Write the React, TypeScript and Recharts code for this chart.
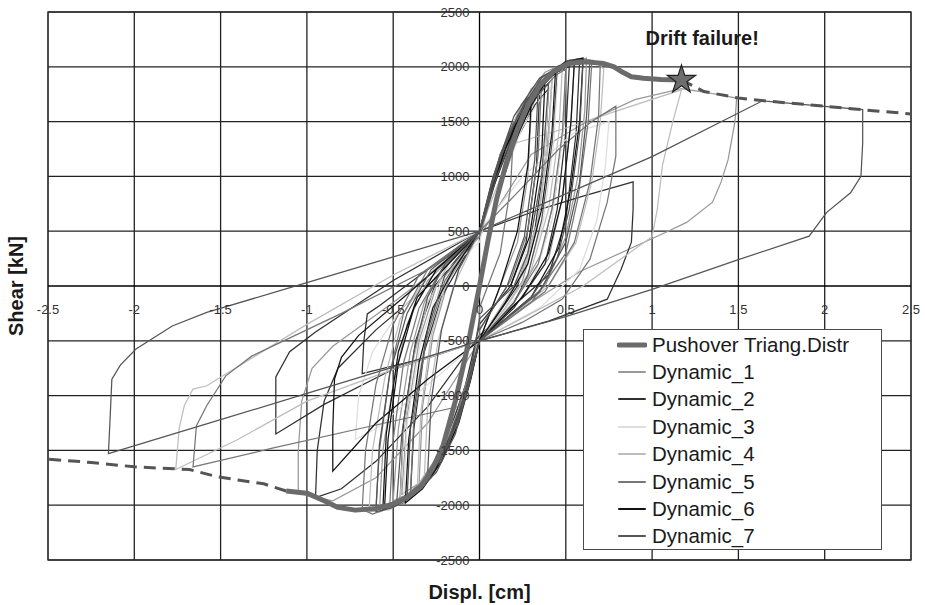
import React from 'react';
import {
  ComposedChart, Line, Scatter, XAxis, YAxis, ZAxis,
  ReferenceDot, ReferenceArea, ReferenceLine, Legend,
} from 'recharts';

type P = [number, number];

const xTicks = [-2.5, -2, -1.5, -1, -0.5, 0, 0.5, 1, 1.5, 2, 2.5];
const xTickLabels = ['-2.5', '-2', '-1.5', '-1', '-0.5', '0', '0.5', '1', '1.5', '2', '2.5'];
const yTicks = [-2500, -2000, -1500, -1000, -500, 0, 500, 1000, 1500, 2000, 2500];
const yTickLabels = ['-2500', '-2000', '-1500', '-1000', '-500', '0', '500', '1000', '1500', '2000', '2500'];

const seriesNames = ['Pushover Triang.Distr', 'Dynamic_1', 'Dynamic_2', 'Dynamic_3', 'Dynamic_4', 'Dynamic_5', 'Dynamic_6', 'Dynamic_7'];
const seriesColors = ['#6b6b6b', '#999999', '#303030', '#dddddd', '#bdbdbd', '#777777', '#111111', '#555555'];

const pushover: P[] = [
  [-1.12, -1870], [-1.0, -1890], [-0.9, -1960], [-0.82, -2020], [-0.72, -2045], [-0.6, -2030], [-0.5, -1990],
  [-0.42, -1930], [-0.34, -1830], [-0.27, -1660], [-0.21, -1450], [-0.14, -1050], [-0.07, -560], [0, 0],
  [0.05, 420], [0.1, 800], [0.16, 1150], [0.22, 1430], [0.28, 1650], [0.35, 1830], [0.43, 1960], [0.52, 2030],
  [0.62, 2045], [0.72, 2030], [0.78, 2000], [0.83, 1950], [0.88, 1910], [0.95, 1895], [1.05, 1885], [1.17, 1880],
];
const pushoverRight: P[] = [[1.17, 1880], [1.3, 1775], [1.5, 1715], [1.65, 1690], [2.0, 1640], [2.28, 1600], [2.5, 1570]];
const pushoverLeft: P[] = [[-1.12, -1870], [-1.25, -1805], [-1.4, -1770], [-1.52, -1740], [-1.68, -1675], [-2.0, -1650], [-2.25, -1610], [-2.5, -1580]];
const driftFailure: P[] = [[1.17, 1880]];

const dynamic1: P[] = [
  [0, 0], [0.06, 500], [0.15, 1100], [0.25, 1500], [0.35, 1780], [0.42, 1880],
  [0.39, 1200], [0.33, 500], [0.25, 50], [0.15, -200], [0, -500],
  [-0.08, -1000], [-0.18, -1450], [-0.3, -1750], [-0.42, -1900], [-0.5, -1960],
  [-0.47, -1300], [-0.4, -600], [-0.32, -150], [-0.2, 200], [0, 500],
  [0.1, 1050], [0.22, 1500], [0.35, 1850], [0.48, 2000], [0.55, 2030],
  [0.53, 1500], [0.48, 800], [0.4, 250], [0.25, -100], [0, -500],
  [-0.3, -1250], [-0.6, -1750], [-0.85, -1960], [-1.05, -1890],
  [-1.05, -1500], [-1.03, -1050], [-0.97, -750], [-0.85, -550], [-0.5, -150], [0, 450],
  [0.3, 1200], [0.6, 1480], [0.9, 1700], [1.17, 1800], [1.3, 1770], [1.49, 1715],
  [1.48, 1500], [1.44, 1150], [1.4, 950], [1.35, 765], [1.2, 580], [1.08, 490], [0.58, 130], [0.3, -150], [0, -450],
  [-0.1, -1000], [-0.22, -1500], [-0.35, -1800], [-0.45, -1900],
  [-0.42, -1200], [-0.35, -500], [-0.25, 0], [0, 450],
  [0.1, 1000], [0.2, 1400], [0.3, 1600],
  [0.28, 1000], [0.22, 400], [0.12, 0], [0, -500],
  [-0.09, -1050], [-0.2, -1500], [-0.33, -1830], [-0.47, -2000], [-0.58, -2060],
  [-0.56, -1500], [-0.5, -900], [-0.42, -350], [-0.3, 50], [0, 500],
  [0.07, 950], [0.17, 1400], [0.3, 1800], [0.45, 2000], [0.62, 2080],
  [0.61, 1600], [0.57, 1000], [0.5, 450], [0.38, 0], [0, -500],
  [-0.07, -950], [-0.16, -1350], [-0.26, -1650], [-0.35, -1800],
  [-0.33, -1100], [-0.27, -450], [-0.18, 50], [0, 500],
  [0.1, 1100], [0.24, 1650], [0.38, 1950], [0.5, 2040],
  [0.49, 1500], [0.44, 850], [0.36, 300], [0.2, -150], [0, -500],
];

const dynamic2: P[] = [
  [0, 0], [0.05, 400], [0.12, 900], [0.22, 1350], [0.32, 1650], [0.4, 1800],
  [0.38, 1200], [0.32, 500], [0.22, 0], [0, -500],
  [-0.06, -900], [-0.15, -1350], [-0.27, -1700], [-0.4, -1900],
  [-0.38, -1300], [-0.32, -600], [-0.22, -100], [0, 500],
  [0.35, 700], [0.6, 820], [0.89, 950],
  [0.89, 700], [0.88, 400], [0.82, 150], [0.74, -120], [0.4, -320], [0, -500],
  [-0.5, -760], [-0.9, -1080], [-1.18, -1350],
  [-1.18, -1100], [-1.18, -830], [-1.1, -600], [-0.95, -420], [-0.5, 50], [0, 500],
  [0.08, 1000], [0.2, 1500], [0.32, 1800], [0.45, 1950], [0.52, 2000],
  [0.5, 1400], [0.45, 700], [0.38, 200], [0.2, -200], [0, -500],
  [-0.3, -650], [-0.68, -800],
  [-0.67, -500], [-0.65, -255], [-0.58, -180], [-0.3, 150], [0, 500],
  [0.1, 1050], [0.25, 1600], [0.35, 1850],
  [0.33, 1100], [0.27, 400], [0.18, 0], [0, -350],
  [-0.08, -900], [-0.2, -1450], [-0.34, -1800], [-0.46, -1950],
  [-0.44, -1250], [-0.37, -500], [-0.26, 0], [0, 500],
  [0.12, 1200], [0.3, 1750], [0.45, 1980], [0.58, 2060],
  [0.56, 1400], [0.5, 600], [0.4, 100], [0, -450],
  [-0.3, -1100], [-0.6, -1600], [-0.8, -1850], [-0.95, -1930],
  [-0.94, -1500], [-0.9, -1050], [-0.82, -750], [-0.6, -400], [-0.3, 0], [0, 500],
  [0.12, 1100], [0.2, 1350],
];

const dynamic3: P[] = [
  [0, 0], [0.06, 500], [0.15, 1050], [0.25, 1450], [0.35, 1700], [0.45, 1850],
  [0.43, 1300], [0.37, 600], [0.28, 100], [0.15, -200], [0, -500],
  [-0.07, -950], [-0.17, -1400], [-0.3, -1750], [-0.42, -1900],
  [-0.4, -1300], [-0.33, -600], [-0.24, -100], [-0.12, 250], [0, 500],
  [0.25, 1000], [0.55, 1400], [0.75, 1500],
  [0.73, 1100], [0.68, 600], [0.58, 150], [0.35, -200], [0, -500],
  [-0.3, -900], [-0.6, -1300], [-0.72, -1400],
  [-0.7, -1000], [-0.62, -600], [-0.45, -200], [0, 400],
  [0.08, 900], [0.18, 1350], [0.3, 1700], [0.4, 1850],
  [0.38, 1200], [0.3, 450], [0.2, 0], [0, -500],
  [-0.1, -1100], [-0.22, -1550], [-0.35, -1850], [-0.44, -1930],
  [-0.42, -1250], [-0.34, -500], [-0.22, 50], [0, 500],
  [0.12, 1150], [0.26, 1650], [0.4, 1950], [0.5, 2020],
  [0.48, 1350], [0.42, 600], [0.32, 100], [0, -500],
];

const dynamic4: P[] = [
  [0, 0], [0.05, 450], [0.12, 950], [0.22, 1400], [0.32, 1700], [0.42, 1880],
  [0.4, 1300], [0.34, 600], [0.25, 100], [0.12, -200], [0, -500],
  [-0.06, -900], [-0.15, -1350], [-0.26, -1700], [-0.38, -1900], [-0.46, -1960],
  [-0.44, -1350], [-0.38, -650], [-0.3, -150], [-0.18, 200], [0, 500],
  [0.2, 1300], [0.48, 1430], [0.8, 1600], [1.17, 1790],
  [1.12, 1500], [1.06, 1100], [1.03, 700], [1.0, 450], [0.6, 0], [0, -500],
  [-0.5, -760], [-1.0, -1050], [-1.4, -1400], [-1.76, -1675],
  [-1.74, -1300], [-1.71, -1090], [-1.66, -940], [-1.58, -910], [-1.0, -350], [-0.5, 100], [0, 500],
  [0.1, 1000], [0.22, 1500], [0.35, 1850], [0.48, 2000],
  [0.46, 1400], [0.4, 700], [0.3, 150], [0.15, -200], [0, -500],
  [-0.08, -1000], [-0.2, -1450], [-0.32, -1750],
  [-0.3, -1100], [-0.24, -500], [-0.15, 0], [0, 500],
  [0.09, 1000], [0.2, 1500], [0.34, 1880], [0.5, 2050], [0.66, 2060], [0.72, 1980],
  [0.7, 1500], [0.65, 950], [0.56, 400], [0.4, 0], [0, -500],
  [-0.1, -1050], [-0.23, -1550], [-0.38, -1900], [-0.52, -2040], [-0.64, -2060],
  [-0.62, -1500], [-0.55, -850], [-0.46, -300], [-0.3, 100], [0, 500],
  [0.08, 950], [0.19, 1450], [0.3, 1750], [0.42, 1920],
  [0.4, 1300], [0.34, 600], [0.24, 100], [0, -500],
  [-0.06, -850], [-0.14, -1300], [-0.24, -1600], [-0.36, -1820],
  [-0.34, -1150], [-0.28, -450], [-0.18, 100], [0, 500],
];

const dynamic5: P[] = [
  [0, 0], [0.06, 500], [0.14, 1000], [0.24, 1450], [0.34, 1750], [0.44, 1920], [0.5, 1980],
  [0.48, 1400], [0.42, 700], [0.34, 200], [0.2, -150], [0, -500],
  [-0.07, -950], [-0.16, -1400], [-0.28, -1750], [-0.4, -1930], [-0.52, -2010],
  [-0.5, -1400], [-0.44, -700], [-0.35, -200], [-0.22, 150], [0, 500],
  [0.2, 820], [0.46, 1250], [0.65, 1500], [0.79, 1640],
  [0.79, 1400], [0.79, 1185], [0.74, 765], [0.64, 245], [0.48, -120], [0.25, -330], [0, -500],
  [-0.12, -1100], [-0.62, -1275], [-1.2, -1480], [-1.66, -1650],
  [-1.64, -1275], [-1.58, -1090], [-1.47, -820], [-1.32, -640], [-0.8, -250], [-0.3, 150], [0, 450],
  [0.12, 1100], [0.28, 1650], [0.42, 1950], [0.55, 2050], [0.65, 2030],
  [0.63, 1500], [0.57, 800], [0.5, 300], [0.3, -150], [0, -500],
  [-0.1, -1050], [-0.22, -1550], [-0.36, -1850], [-0.5, -1980], [-0.6, -2020],
  [-0.58, -1500], [-0.52, -800], [-0.44, -250], [-0.3, 150], [0, 500],
  [0.05, 800], [0.12, 1200], [0.2, 1500],
  [0.18, 900], [0.12, 300], [0, -200], [0, -500],
  [-0.08, -1000], [-0.18, -1450], [-0.3, -1780], [-0.44, -1980], [-0.62, -2080], [-0.68, -2040],
  [-0.66, -1500], [-0.6, -900], [-0.5, -350], [-0.35, 100], [0, 500],
  [0.11, 1100], [0.25, 1600], [0.4, 1930], [0.56, 2070], [0.7, 2040],
  [0.69, 1550], [0.64, 950], [0.55, 400], [0.38, -50], [0, -500],
  [-0.07, -900], [-0.17, -1400], [-0.29, -1730], [-0.4, -1880],
  [-0.38, -1200], [-0.31, -500], [-0.2, 50], [0, 500],
  [0.06, 850], [0.15, 1300], [0.26, 1650], [0.36, 1850],
  [0.34, 1200], [0.28, 500], [0.18, 50], [0, -400],
];

const dynamic6: P[] = [
  [0, 0], [0.04, 400], [0.1, 800], [0.2, 1300], [0.3, 1650], [0.38, 1850], [0.44, 1950],
  [0.42, 1400], [0.36, 700], [0.28, 200], [0.15, -150], [0, -500],
  [-0.05, -850], [-0.12, -1250], [-0.22, -1600], [-0.33, -1850], [-0.43, -1980],
  [-0.41, -1400], [-0.35, -700], [-0.27, -200], [-0.15, 150], [0, 500],
  [0.1, 1050], [0.2, 1450], [0.35, 1850], [0.5, 2050], [0.6, 2080],
  [0.58, 1500], [0.53, 900], [0.46, 350], [0.3, -100], [0, -500],
  [-0.3, -850], [-0.6, -1250], [-0.85, -1690],
  [-0.85, -1300], [-0.84, -850], [-0.8, -650], [-0.7, -450], [-0.4, -50], [0, 500],
  [0.15, 1250], [0.3, 1750], [0.45, 2000], [0.55, 2060],
  [0.53, 1500], [0.48, 800], [0.4, 300], [0.25, -100], [0, -500],
  [-0.08, -1000], [-0.2, -1500], [-0.35, -1850], [-0.48, -2000], [-0.55, -2020],
  [-0.53, -1400], [-0.47, -700], [-0.38, -200], [-0.25, 150], [0, 500],
  [0.08, 900], [0.2, 1400], [0.3, 1700],
  [0.28, 1100], [0.22, 500], [0.12, 0], [0, -500],
  [-0.12, -1200], [-0.25, -1650], [-0.4, -1920], [-0.56, -2040],
  [-0.54, -1350], [-0.47, -600], [-0.36, -100], [0, 500],
  [0.06, 850], [0.16, 1300], [0.28, 1700], [0.38, 1900],
  [0.36, 1200], [0.29, 450], [0.18, 0],
];

const dynamic7: P[] = [
  [0, 0], [0.05, 400], [0.12, 900], [0.2, 1350], [0.3, 1700], [0.4, 1900], [0.45, 1960],
  [0.42, 1300], [0.36, 600], [0.28, 100], [0.2, -150], [0, -500],
  [-0.06, -900], [-0.14, -1350], [-0.25, -1700], [-0.38, -1900], [-0.48, -1980],
  [-0.45, -1350], [-0.38, -600], [-0.3, -100], [-0.2, 200], [0, 500],
  [0.08, 1000], [0.2, 1550], [0.35, 1900], [0.5, 2030], [0.6, 2050],
  [0.58, 1400], [0.52, 700], [0.45, 250], [0.3, -100], [0, -500],
  [-0.5, -740], [-1.0, -980], [-1.5, -1220], [-2.15, -1530],
  [-2.14, -1200], [-2.13, -850], [-2.08, -720], [-1.99, -575], [-1.78, -365], [-1.58, -240], [-1.0, 30], [-0.5, 265], [0, 500],
  [0.5, 840], [1.0, 1180], [1.64, 1690], [2.0, 1640], [2.22, 1610],
  [2.22, 1300], [2.21, 1000], [2.15, 850], [2.01, 670], [1.91, 455], [1.5, 240], [1.0, -30], [0.5, -280], [0, -500],
  [-0.1, -1050], [-0.2, -1500], [-0.32, -1800], [-0.42, -1950],
  [-0.4, -1300], [-0.3, -400], [-0.2, 100], [0, 500],
  [0.1, 1000], [0.25, 1600], [0.4, 1850],
  [0.36, 1000], [0.28, 300], [0.2, 0], [0, -300],
  [-0.07, -950], [-0.18, -1450], [-0.32, -1820], [-0.5, -2020], [-0.6, -2060],
  [-0.58, -1450], [-0.52, -800], [-0.42, -250], [-0.28, 150], [0, 500],
  [0.09, 1050], [0.22, 1550], [0.36, 1900], [0.52, 2060], [0.64, 2060],
  [0.62, 1550], [0.58, 950], [0.5, 400], [0.35, -50], [0, -500],
  [-0.05, -800], [-0.13, -1250], [-0.22, -1550], [-0.3, -1700],
  [-0.28, -1050], [-0.22, -400], [-0.12, 150], [0, 500],
  [0.07, 900], [0.16, 1350], [0.27, 1700], [0.34, 1800],
  [0.32, 1150], [0.26, 450], [0.16, 0], [0, -400],
];

const dynamics: P[][] = [dynamic1, dynamic2, dynamic3, dynamic4, dynamic5, dynamic6, dynamic7];

const toData = (pts: P[]) => pts.map(([x, y]) => ({ x, y }));

const FONT = '"Liberation Sans", Arial, Helvetica, sans-serif';

const LegendBox = () => (
  <div
    style={{
      width: 299, height: 221, boxSizing: 'border-box', border: '1.5px solid #4a4a4a',
      background: '#fff', paddingTop: 1, paddingLeft: 33, fontFamily: FONT,
    }}
  >
    {seriesNames.map((name, i) => (
      <div key={name} style={{ display: 'flex', alignItems: 'center', height: 27.4 }}>
        <svg width={30} height={8} style={{ marginRight: 5 }}>
          <line
            x1={2} y1={4} x2={28} y2={4}
            stroke={seriesColors[i]}
            strokeWidth={i === 0 ? 5 : 2}
            strokeLinecap="round"
          />
        </svg>
        <span style={{ fontSize: 20.5, color: '#1a1a1a', lineHeight: '22px' }}>{name}</span>
      </div>
    ))}
  </div>
);

export default function App() {
  return (
    <div style={{ position: 'absolute', left: 0, top: 0, background: '#fff' }}>
      <ComposedChart width={925} height={605} margin={{ top: 12, right: 14, left: 0, bottom: 0 }}>
        <XAxis
          type="number" dataKey="x" domain={[-2.5, 2.5]} ticks={xTicks} height={45}
          tick={false} axisLine={false} tickLine={false} allowDataOverflow
          label={{
            content: (props: any) => {
              const vb = props.viewBox || {};
              return (
                <text x={vb.x + vb.width / 2} y={vb.y + 39} textAnchor="middle"
                  fontFamily={FONT} fontWeight="bold" fontSize={20} fill="#1a1a1a">Displ. [cm]</text>
              );
            },
          }}
        />
        <YAxis
          type="number" dataKey="y" domain={[-2500, 2500]} ticks={yTicks} width={48}
          tick={false} axisLine={false} tickLine={false} allowDataOverflow
          label={{
            content: (props: any) => {
              const vb = props.viewBox || {};
              const cx = vb.x + 23;
              const cy = vb.y + vb.height / 2;
              return (
                <text x={cx} y={cy} textAnchor="middle" transform={`rotate(-90 ${cx} ${cy})`}
                  fontFamily={FONT} fontWeight="bold" fontSize={20} fill="#1a1a1a">Shear [kN]</text>
              );
            },
          }}
        />
        <ZAxis range={[250, 250]} />

        {xTicks.map((v) => (
          <ReferenceLine key={`gx${v}`} x={v} stroke={v === 0 ? '#000' : '#222'} strokeWidth={1.3} />
        ))}
        {yTicks.map((v) => (
          <ReferenceLine key={`gy${v}`} y={v} stroke={v === 0 ? '#000' : '#222'} strokeWidth={1.3} />
        ))}
        <ReferenceArea x1={-2.5} x2={2.5} y1={-2500} y2={2500} fill="none" stroke="#9a9a9a" strokeWidth={2} />

        {dynamics.map((d, i) => (
          <Line
            key={seriesNames[i + 1]}
            data={toData(d)}
            dataKey="y"
            name={seriesNames[i + 1]}
            type="linear"
            stroke={seriesColors[i + 1]}
            strokeWidth={1.25}
            dot={false}
            activeDot={false}
            isAnimationActive={false}
          />
        ))}

        <Line data={toData(pushoverRight)} dataKey="y" type="linear" stroke="#555" strokeWidth={3}
          strokeDasharray="12 7" dot={false} activeDot={false} isAnimationActive={false} legendType="none" />
        <Line data={toData(pushoverLeft)} dataKey="y" type="linear" stroke="#555" strokeWidth={3}
          strokeDasharray="12 7" dot={false} activeDot={false} isAnimationActive={false} legendType="none" />
        <Line data={toData(pushover)} dataKey="y" name={seriesNames[0]} type="linear" stroke={seriesColors[0]}
          strokeWidth={5} strokeLinejoin="round" dot={false} activeDot={false} isAnimationActive={false} />

        <Scatter data={toData(driftFailure)} dataKey="y" shape="star" fill="#6e6e6e" stroke="#222"
          strokeWidth={1.2} isAnimationActive={false} legendType="none" />

        {xTicks.map((v, i) => (
          <ReferenceDot key={`xl${v}`} x={v} y={0} r={0} fill="none" stroke="none"
            label={{ value: xTickLabels[i], position: 'bottom', offset: 19, fontSize: 13, fill: '#333', fontFamily: FONT }} />
        ))}
        {yTicks.map((v, i) => (
          <ReferenceDot key={`yl${v}`} x={0} y={v} r={0} fill="none" stroke="none"
            label={{ value: yTickLabels[i], position: 'left', offset: 10, fontSize: 13, fill: '#333', fontFamily: FONT }} />
        ))}
        <ReferenceDot x={1.29} y={2260} r={0} fill="none" stroke="none"
          label={{ value: 'Drift failure!', position: 'center', fontSize: 20, fontWeight: 'bold', fill: '#1a1a1a', fontFamily: FONT }} />

        <Legend
          layout="vertical" align="center" verticalAlign="middle"
          content={() => <LegendBox />}
          wrapperStyle={{ left: 583, top: 329, width: 299, height: 221 }}
        />
      </ComposedChart>
    </div>
  );
}
